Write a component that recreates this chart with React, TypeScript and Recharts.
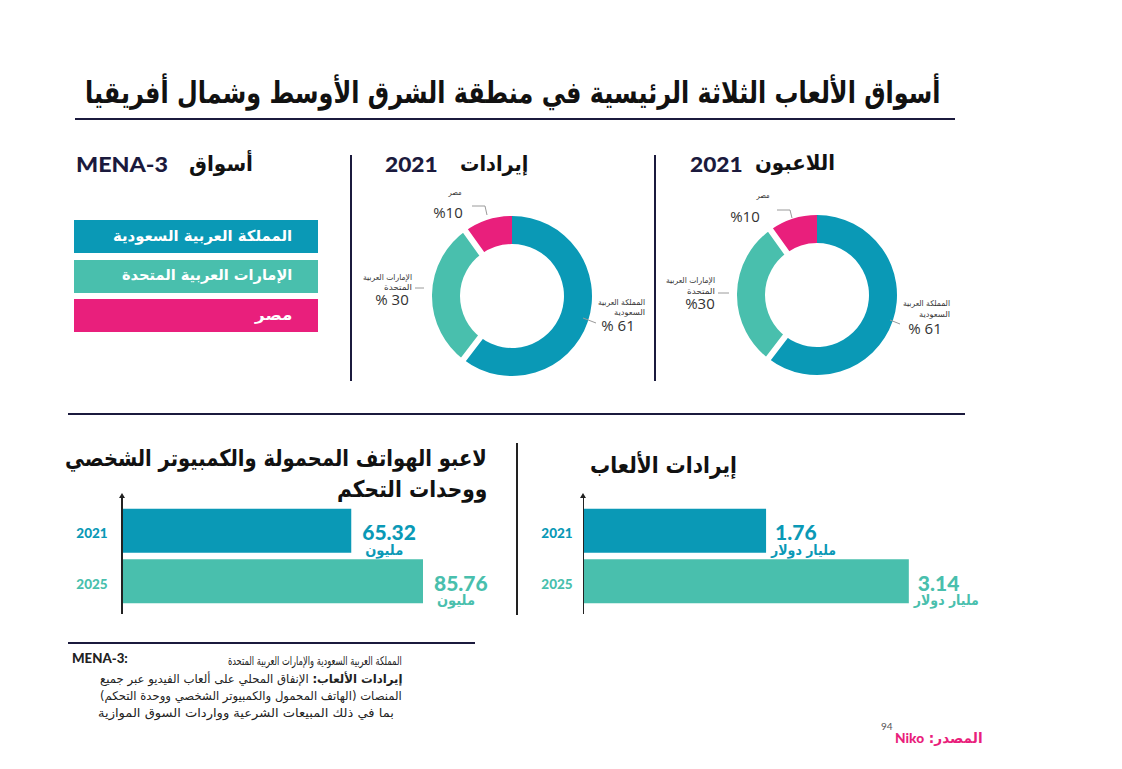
import React, { useLayoutEffect, useRef, useState } from 'react';
import { PieChart, Pie, Cell, BarChart, Bar, XAxis, YAxis, LabelList } from 'recharts';

// ---------- data ----------
const markets = ['المملكة العربية السعودية', 'الإمارات العربية المتحدة', 'مصر'];
const sliceNameLines = [['المملكة العربية', 'السعودية'], ['الإمارات العربية', 'المتحدة'], ['مصر']];
const revenueShare = [61, 30, 10];
const revenueShareLabels = ['% 61', '% 30', '%10'];
const playersShare = [61, 30, 10];
const playersShareLabels = ['% 61', '%30', '%10'];
const years = ['2021', '2025'];
const playersMillions = [65.32, 85.76];
const playersUnit = 'مليون';
const revenueBillions = [1.76, 3.14];
const revenueUnit = 'مليار دولار';

// ---------- styles ----------
const TEAL = '#0a99b6';
const GREEN = '#49bfad';
const PINK = '#e91f7c';
const NAVY = '#1b1a3d';
const marketColors = [TEAL, GREEN, PINK];
const yearColors = [TEAL, GREEN];
const AR = '"DejaVu Sans", sans-serif';
const LAT = 'Lato, "Open Sans", sans-serif';
const nameWidths = [[47, 31], [49, 28], [13]];
const legendWidths = [179, 170, 37];

const revenueData = markets.map((m, i) => ({ name: m, value: revenueShare[i], label: revenueShareLabels[i] }));
const playersData = markets.map((m, i) => ({ name: m, value: playersShare[i], label: playersShareLabels[i] }));
const playersBars = years.map((y, i) => ({ year: y, value: playersMillions[i] }));
const revenueBars = years.map((y, i) => ({ year: y, value: revenueBillions[i] }));

// ---------- text fitting helper ----------
const Fit = ({ w, origin = 'right', style, children }: { w: number; origin?: string; style?: React.CSSProperties; children: React.ReactNode }) => {
  const ref = useRef<HTMLSpanElement>(null);
  const [s, setS] = useState(1);
  useLayoutEffect(() => {
    if (ref.current) {
      const nat = ref.current.offsetWidth;
      if (nat > 0) setS(w / nat);
    }
  }, [w]);
  return (
    <span ref={ref} style={{ display: 'inline-block', whiteSpace: 'nowrap', transform: `scaleX(${s})`, transformOrigin: origin, ...style }}>
      {children}
    </span>
  );
};

// positioned text: right edge (rtl) or left edge, vertical centre
const RText = ({ right, cy, w, size, weight = 700, color = '#111', font = AR, children }:
  { right: number; cy: number; w: number; size: number; weight?: number; color?: string; font?: string; children: React.ReactNode }) => (
  <div style={{ position: 'absolute', right: 1122 - right, top: cy - size * 0.75, height: size * 1.5, lineHeight: `${size * 1.5}px`,
    fontFamily: font, fontWeight: weight, fontSize: size, color, direction: 'rtl', whiteSpace: 'nowrap' }}>
    <Fit w={w} origin="right">{children}</Fit>
  </div>
);
const LText = ({ left, cy, w, size, weight = 900, color = NAVY, font = LAT, children }:
  { left: number; cy: number; w: number; size: number; weight?: number; color?: string; font?: string; children: React.ReactNode }) => (
  <div style={{ position: 'absolute', left, top: cy - size * 0.75, height: size * 1.5, lineHeight: `${size * 1.5}px`,
    fontFamily: font, fontWeight: weight, fontSize: size, color, whiteSpace: 'nowrap' }}>
    <Fit w={w} origin="left">{children}</Fit>
  </div>
);

// label layout, relative to pie centre (per slice index)
type LabelLayout = { nameX: number; nameY: number[]; nameAnchor: 'start' | 'middle' | 'end'; pctX: number; pctY: number; line: number[][] };
const midLayout: LabelLayout[] = [
  { nameX: 138, nameY: [11, 21], nameAnchor: 'end', pctX: 111, pctY: 34, line: [[76, 27], [89, 32]] },
  { nameX: -95, nameY: [-14, -4], nameAnchor: 'end', pctX: -115, pctY: 8, line: [[-92, -3], [-83, -3]] },
  { nameX: -52, nameY: [-99], nameAnchor: 'middle', pctX: -59, pctY: -79, line: [[-20, -76], [-22, -85], [-35, -85]] },
];
const rightLayout: LabelLayout[] = [
  { nameX: 138, nameY: [13, 24], nameAnchor: 'end', pctX: 113, pctY: 38, line: [[78, 30], [88, 34]] },
  { nameX: -97, nameY: [-10, 1], nameAnchor: 'end', pctX: -112, pctY: 13, line: [[-94, 3], [-83, 3]] },
  { nameX: -49, nameY: [-95], nameAnchor: 'middle', pctX: -67, pctY: -74, line: [[-20, -72], [-22, -80], [-35, -80]] },
];

const PCX = 150;
const PCY = 130;

const makePieLabel = (layout: LabelLayout[]) => (props: any) => {
  const i = props.index ?? 0;
  const L = layout[i];
  const pts = L.line.map((p) => `${PCX + p[0]},${PCY + p[1]}`).join(' ');
  return (
    <g key={`lbl-${i}`}>
      <polyline points={pts} fill="none" stroke="#9a9a9a" strokeWidth={1} />
      {sliceNameLines[i].map((t, k) => (
        <text key={k} x={PCX + L.nameX} y={PCY + L.nameY[k]} textAnchor={L.nameAnchor} dominantBaseline="central"
          fontFamily={AR} fontSize={8} fill="#333" textLength={nameWidths[i][k]} lengthAdjust="spacingAndGlyphs">{t}</text>
      ))}
      <text x={PCX + L.pctX} y={PCY + L.pctY} textAnchor="middle" dominantBaseline="central"
        fontFamily='"Open Sans", sans-serif' fontSize={15} fill="#333">{props.payload?.label ?? props.label}</text>
    </g>
  );
};

const Donut = ({ data, layout, left, top }: { data: any[]; layout: LabelLayout[]; left: number; top: number }) => (
  <div style={{ position: 'absolute', left, top }}>
    <PieChart width={300} height={260}>
      <Pie data={data} dataKey="value" cx={PCX} cy={PCY} innerRadius={52} outerRadius={80}
        startAngle={90} endAngle={-270} stroke="none" isAnimationActive={false}
        label={makePieLabel(layout)} labelLine={false}>
        {data.map((d, i) => <Cell key={i} fill={marketColors[i]} stroke="none" />)}
      </Pie>
      <Pie data={data} dataKey="value" cx={PCX} cy={PCY} innerRadius={49} outerRadius={83}
        startAngle={90} endAngle={-270} isAnimationActive={false}>
        {data.map((d, i) => i === 1
          ? <Cell key={i} fill={marketColors[i]} stroke="#ffffff" strokeWidth={6} />
          : <Cell key={i} fill="none" stroke="none" />)}
      </Pie>
    </PieChart>
  </div>
);

const HBar = ({ data, unit, unitW, left, top, width, rightPad, yAxisWidth, max, tickX, unitMode }:
  { data: any[]; unit: string; unitW: number; left: number; top: number; width: number; rightPad: number; yAxisWidth: number; max: number; tickX: number; unitMode: 'center' | 'start' }) => {
  const height = 130;
  const renderTick = (p: any) => {
    const i = p.index ?? 0;
    return (
      <text x={tickX} y={p.y + 2} textAnchor="middle" dominantBaseline="central" fontFamily={LAT}
        fontWeight={900} fontSize={13.5} fill={yearColors[i]}>{p.payload.value}</text>
    );
  };
  const renderValue = (p: any) => {
    const i = p.index ?? data.findIndex((d) => d.value === p.value);
    const x0 = Number(p.x) + Number(p.width);
    const cy = Number(p.y) + Number(p.height) / 2;
    const numX = x0 + (unitMode === 'center' ? 11 : 9);
    const col = yearColors[i] ?? TEAL;
    return (
      <g>
        <text x={numX} y={cy + 1} textAnchor="start" dominantBaseline="central" fontFamily={LAT}
          fontWeight={900} fontSize={21} fill={col}>{p.value}</text>
        <text x={unitMode === 'center' ? numX + 22 : numX - 4} y={cy + 19} textAnchor={unitMode === 'center' ? 'middle' : 'start'}
          dominantBaseline="central" fontFamily={AR} fontWeight={700} fontSize={14} fill={col}
          textLength={unitW} lengthAdjust="spacingAndGlyphs">{unit}</text>
      </g>
    );
  };
  return (
    <div style={{ position: 'absolute', left, top }}>
      <BarChart width={width} height={height} data={data} layout="vertical"
        margin={{ top: 15.75, bottom: 13.25, left: 0, right: rightPad }} barCategoryGap={0}>
        <XAxis type="number" hide domain={[0, max]} />
        <YAxis type="category" dataKey="year" width={yAxisWidth} axisLine={false} tickLine={false} tick={renderTick} />
        <Bar dataKey="value" barSize={44} isAnimationActive={false}>
          {data.map((d, i) => <Cell key={i} fill={yearColors[i]} />)}
          <LabelList dataKey="value" content={renderValue} />
        </Bar>
      </BarChart>
    </div>
  );
};

const abs = (s: React.CSSProperties): React.CSSProperties => ({ position: 'absolute', ...s });

export default function App() {
  return (
    <div style={{ position: 'absolute', left: 0, top: 0, width: 1122, height: 769, background: '#fff', overflow: 'hidden', color: NAVY }}>
      {/* main title */}
      <RText right={940} cy={92} w={855} size={30}>أسواق الألعاب الثلاثة الرئيسية في منطقة الشرق الأوسط وشمال أفريقيا</RText>
      <div style={abs({ left: 75, top: 118, width: 880, height: 2, background: NAVY })} />

      {/* left legend block */}
      <LText left={76} cy={164} w={92} size={21}>MENA-3</LText>
      <RText right={253} cy={165} w={64} size={21}>أسواق</RText>
      {markets.map((m, i) => (
        <div key={m} style={abs({ left: 74, top: 220 + i * 39.5, width: 244, height: 33, background: marketColors[i] })} />
      ))}
      {markets.map((m, i) => (
        <RText key={'t' + m} right={292} cy={236 + i * 39.5} w={legendWidths[i]} size={15} color="#fff">{m}</RText>
      ))}

      {/* separators */}
      <div style={abs({ left: 350, top: 155, width: 2, height: 226, background: NAVY })} />
      <div style={abs({ left: 654, top: 155, width: 2, height: 226, background: NAVY })} />

      {/* donut titles */}
      <LText left={385} cy={164} w={53} size={21}>2021</LText>
      <RText right={528} cy={165} w={68} size={21}>إيرادات</RText>
      <LText left={690} cy={164} w={53} size={21}>2021</LText>
      <RText right={835} cy={164} w={80} size={21}>اللاعبون</RText>

      <Donut data={revenueData} layout={midLayout} left={507 - PCX} top={291 - PCY} />
      <Donut data={playersData} layout={rightLayout} left={812 - PCX} top={290 - PCY} />

      {/* middle rule */}
      <div style={abs({ left: 68, top: 413, width: 897, height: 2, background: NAVY })} />

      {/* bottom-left title */}
      <RText right={487} cy={458} w={422} size={23}>لاعبو الهواتف المحمولة والكمبيوتر الشخصي</RText>
      <RText right={487} cy={489} w={150} size={23}>ووحدات التحكم</RText>
      {/* bottom-right title */}
      <RText right={737} cy={465} w={147} size={23}>إيرادات الألعاب</RText>
      <div style={abs({ left: 516, top: 443, width: 1.5, height: 172, background: '#222' })} />

      <HBar data={playersBars} unit={playersUnit} unitW={38} left={60} top={490} width={440} rightPad={0} yAxisWidth={62} max={107.7} tickX={32} unitMode="center" />
      <HBar data={revenueBars} unit={revenueUnit} unitW={65} left={515} top={490} width={485} rightPad={20} yAxisWidth={69} max={3.828} tickX={42} unitMode="start" />

      {/* axis lines */}
      <div style={abs({ left: 120.5, top: 497, width: 2, height: 117, background: '#222' })} />
      <div style={abs({ left: 582.5, top: 497, width: 1.5, height: 117, background: '#222' })} />
      <div style={abs({ left: 118.5, top: 493, width: 0, height: 0, borderLeft: '3px solid transparent', borderRight: '3px solid transparent', borderBottom: '5px solid #222' })} />
      <div style={abs({ left: 580.3, top: 493, width: 0, height: 0, borderLeft: '3px solid transparent', borderRight: '3px solid transparent', borderBottom: '5px solid #222' })} />

      {/* footnote */}
      <div style={abs({ left: 68, top: 642, width: 407, height: 2, background: NAVY })} />
      <LText left={72} cy={659} w={56} size={13} color="#222">MENA-3:</LText>
      <RText right={402} cy={661} w={174} size={12} weight={400} color="#222">المملكة العربية السعودية والإمارات العربية المتحدة</RText>
      <RText right={402} cy={679} w={302} size={12} weight={400} color="#222"><b>إيرادات الألعاب:</b> الإنفاق المحلي على ألعاب الفيديو عبر جميع</RText>
      <RText right={402} cy={696} w={302} size={12} weight={400} color="#222">المنصات (الهاتف المحمول والكمبيوتر الشخصي ووحدة التحكم)</RText>
      <RText right={394} cy={713} w={296} size={12} weight={400} color="#222">بما في ذلك المبيعات الشرعية وواردات السوق الموازية</RText>

      {/* source */}
      <LText left={881} cy={726} w={12} size={10} weight={400} color="#555">94</LText>
      <RText right={983} cy={737} w={88} size={14} color={PINK}>
        المصدر: <span style={{ fontFamily: LAT, fontWeight: 900 }}>Niko</span>
      </RText>
    </div>
  );
}
